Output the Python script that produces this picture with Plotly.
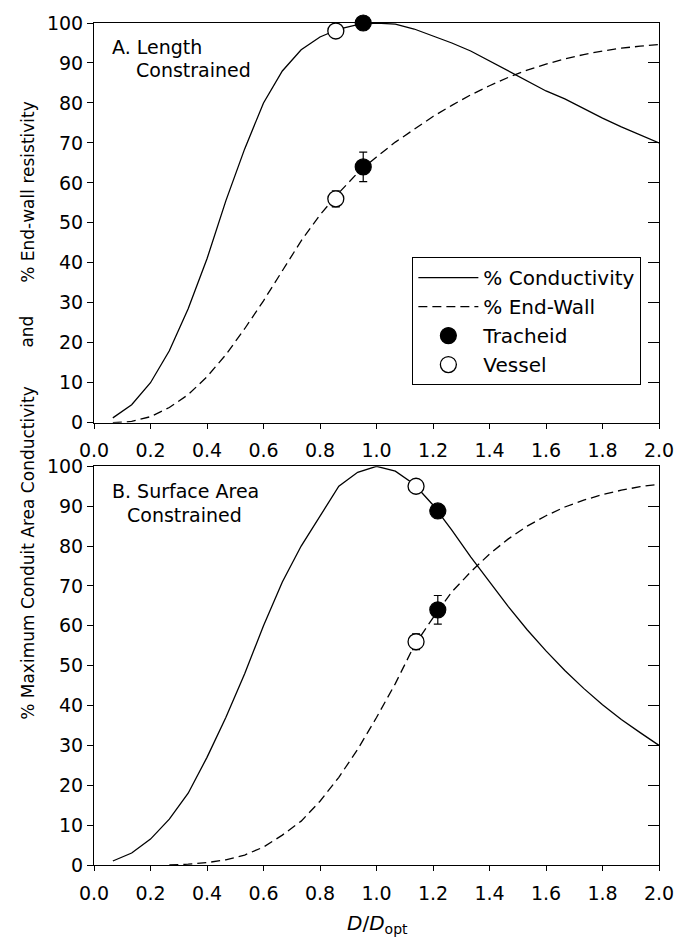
import plotly.graph_objects as go

# ---------------- data ----------------
x_grid = [i / 15 for i in range(1, 31)]

cond_A = [1.2, 4.5, 10, 18, 28.5, 41, 55.5, 68.5, 80, 88, 93.3, 96.5, 98.5, 99.6, 100,
          99.7, 98.5, 96.8, 95, 93, 90.5, 88, 85.5, 83, 81, 78.5, 76.2, 74, 72, 70]
endwall_A = [0, 0.3, 1.5, 3.8, 7, 11.5, 17, 23.5, 30.5, 38, 45.5, 52, 57.5, 62.5, 66.5,
             70.2, 73.5, 76.6, 79.4, 82, 84.3, 86.4, 88.2, 89.7, 91, 92.1, 93, 93.7, 94.2, 94.6]

cond_B = [1, 3, 6.5, 11.5, 18, 27, 37, 48, 60, 71, 80, 87.5, 95, 98.5, 100,
          98.8, 95.5, 90.3, 84, 77.3, 71, 64.8, 59, 53.7, 48.8, 44.3, 40.2, 36.5, 33.2, 30]
x_endwall_B = x_grid[3:]
endwall_B = [0, 0.2, 0.6, 1.3, 2.5, 4.5, 7.5, 11, 16, 22, 29, 37, 45.5, 55, 62,
             68.5, 73.5, 78, 81.8, 85, 87.6, 89.8, 91.5, 92.9, 94, 94.9, 95.5]

# observed points: [conductivity point, end-wall point]
trach_A_x = [0.953, 0.953]
trach_A_y = [100, 64]
trach_A_err = [0, 3.7]
vessel_A_x = [0.856, 0.856]
vessel_A_y = [98, 56]
vessel_A_err = [0, 2.0]

trach_B_x = [1.217, 1.217]
trach_B_y = [88.8, 64]
trach_B_err = [0, 3.6]
vessel_B_x = [1.14, 1.14]
vessel_B_y = [95, 56]
vessel_B_err = [0, 2.0]

legend_names = ["% Conductivity", "% End-Wall", "Tracheid", "Vessel"]
x_ticks = [0.0, 0.2, 0.4, 0.6, 0.8, 1.0, 1.2, 1.4, 1.6, 1.8, 2.0]
y_ticks = [0, 10, 20, 30, 40, 50, 60, 70, 80, 90, 100]

# ---------------- figure ----------------
FONT = "DejaVu Sans, Liberation Sans, Arial, sans-serif"
W, H = 686, 947
L, R, T, B = 94, 17, 16, 82
PW, PH = W - L - R, H - T - B


def px_x(p):
    return (p - L) / PW


def px_y(p):
    return (H - B - p) / PH


fig = go.Figure()
line_style = dict(color="black", width=1.3)
dash_style = dict(color="black", width=1.3, dash="9px,5px")
mk_fill = dict(symbol="circle", size=16, color="black", line=dict(color="black", width=1.2))
mk_open = dict(symbol="circle", size=16, color="white", line=dict(color="black", width=1.3))


def add_panel(xa, ya, cond, ew_x, ew, tx, ty, te, vx, vy, ve, show):
    fig.add_trace(go.Scatter(x=x_grid, y=cond, mode="lines", line=line_style,
                             name=legend_names[0], showlegend=show, xaxis=xa, yaxis=ya,
                             cliponaxis=False))
    fig.add_trace(go.Scatter(x=ew_x, y=ew, mode="lines", line=dash_style,
                             name=legend_names[1], showlegend=show, xaxis=xa, yaxis=ya,
                             cliponaxis=False))
    fig.add_trace(go.Scatter(x=tx, y=ty, mode="markers", marker=mk_fill,
                             error_y=dict(type="data", array=te, color="black", thickness=1.2, width=4),
                             name=legend_names[2], showlegend=show, xaxis=xa, yaxis=ya,
                             cliponaxis=False))
    fig.add_trace(go.Scatter(x=vx, y=vy, mode="markers", marker=mk_open,
                             error_y=dict(type="data", array=ve, color="black", thickness=1.2, width=4),
                             name=legend_names[3], showlegend=show, xaxis=xa, yaxis=ya,
                             cliponaxis=False))


add_panel("x", "y", cond_A, x_grid, endwall_A, trach_A_x, trach_A_y, trach_A_err,
          vessel_A_x, vessel_A_y, vessel_A_err, True)
add_panel("x2", "y2", cond_B, x_endwall_B, endwall_B, trach_B_x, trach_B_y, trach_B_err,
          vessel_B_x, vessel_B_y, vessel_B_err, False)

# empty traces so the right-hand inward tick axes render
fig.add_trace(go.Scatter(x=[None], y=[None], xaxis="x", yaxis="y3", showlegend=False, hoverinfo="skip"))
fig.add_trace(go.Scatter(x=[None], y=[None], xaxis="x2", yaxis="y4", showlegend=False, hoverinfo="skip"))

tickfont = dict(family=FONT, size=19, color="black")
ydomA = [px_y(419), 1]
ydomB = [0, px_y(463)]

xcommon = dict(range=[0, 2], tickvals=x_ticks, tickformat=".1f", ticks="outside", ticklen=5,
               tickwidth=1, tickcolor="black", showline=True, linecolor="black", linewidth=1,
               mirror=True, showgrid=False, zeroline=False, tickfont=tickfont,
               ticklabelstandoff=6)
ycommon = dict(range=[0, 100], tickvals=y_ticks, ticks="outside", ticklen=6, tickwidth=1,
               tickcolor="black", showline=True, linecolor="black", linewidth=1, mirror=True,
               showgrid=False, zeroline=False, tickfont=tickfont)
yright = dict(range=[0, 100], tickvals=y_ticks, ticks="inside", ticklen=11, tickwidth=1,
              tickcolor="black", showline=False, showgrid=False, zeroline=False,
              showticklabels=False, side="right")

fig.update_layout(
    width=W, height=H,
    margin=dict(l=L, r=R, t=T, b=B),
    paper_bgcolor="white", plot_bgcolor="white",
    font=dict(family=FONT, size=19, color="black"),
    xaxis=dict(domain=[0, 1], anchor="y", **xcommon),
    yaxis=dict(domain=ydomA, anchor="x", **ycommon),
    xaxis2=dict(domain=[0, 1], anchor="y2", **xcommon),
    yaxis2=dict(domain=ydomB, anchor="x2", **ycommon),
    yaxis3=dict(overlaying="y", anchor="x", **yright),
    yaxis4=dict(overlaying="y2", anchor="x2", **yright),
    showlegend=True,
    legend=dict(x=px_x(418), y=px_y(252), xanchor="left", yanchor="top",
                bordercolor="black", borderwidth=1, bgcolor="white",
                font=dict(family=FONT, size=20, color="black"),
                tracegroupgap=0, itemwidth=60),
)

ann_font = dict(family=FONT, size=19, color="black")
annotations = [
    dict(text="A. Length", x=px_x(110), y=px_y(40), xanchor="left", yanchor="middle"),
    dict(text="Constrained", x=px_x(135), y=px_y(63), xanchor="left", yanchor="middle"),
    dict(text="B. Surface Area", x=px_x(187), y=px_y(488), xanchor="center", yanchor="middle"),
    dict(text="Constrained", x=px_x(186), y=px_y(512), xanchor="center", yanchor="middle"),
    dict(text="<i>D</i>/<i>D</i><sub>opt</sub>", x=px_x(383), y=px_y(924), xanchor="center",
         yanchor="middle", font=dict(family=FONT, size=20, color="black")),
    dict(text="% End-wall resistivity", x=px_x(26), y=px_y(186), xanchor="center",
         yanchor="middle", textangle=-90, font=dict(family=FONT, size=17, color="black")),
    dict(text="and", x=px_x(26), y=px_y(327), xanchor="center", yanchor="middle", textangle=-90,
         font=dict(family=FONT, size=17, color="black")),
    dict(text="% Maximum Conduit Area Conductivity", x=px_x(26), y=px_y(550), xanchor="center",
         yanchor="middle", textangle=-90, font=dict(family=FONT, size=17, color="black")),
]
for a in annotations:
    a.setdefault("font", ann_font)
    fig.add_annotation(xref="paper", yref="paper", showarrow=False, **a)

fig.write_html("out.html")
